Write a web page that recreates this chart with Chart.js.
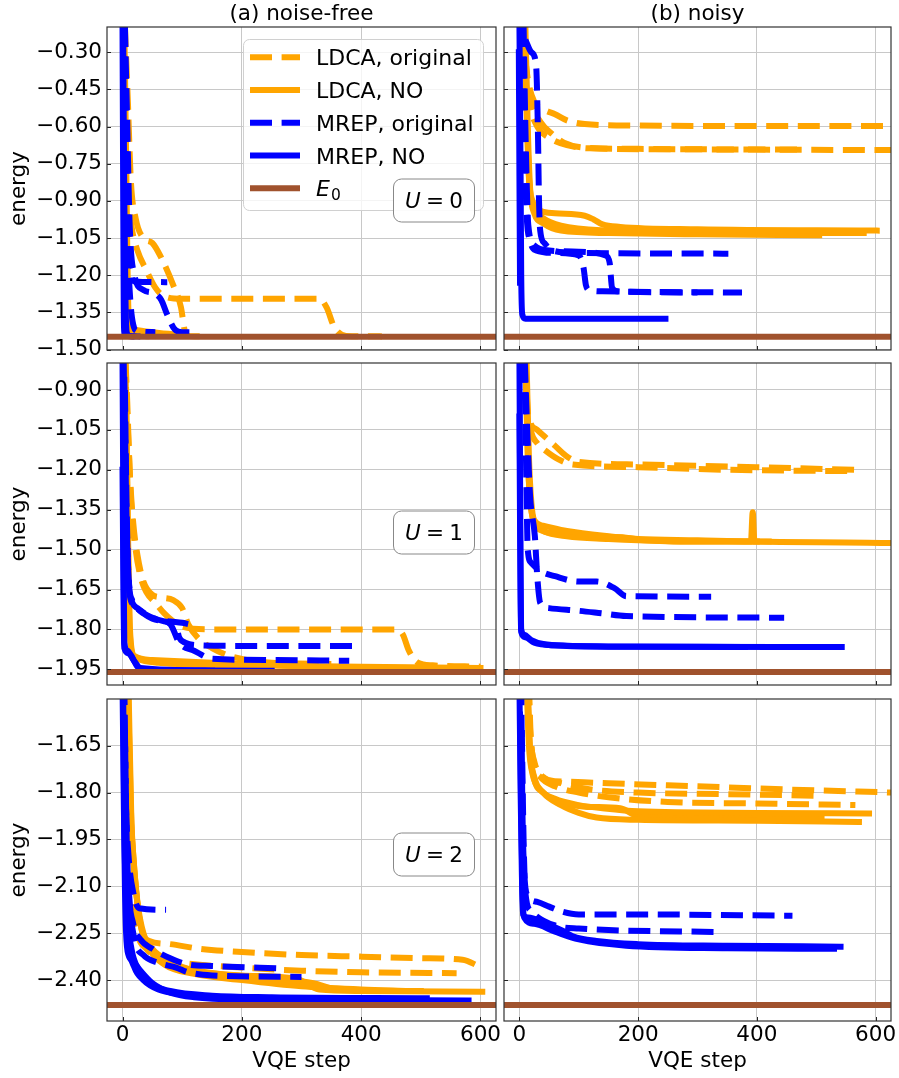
<!DOCTYPE html>
<html>
<head>
<meta charset="utf-8">
<script src="https://cdn.jsdelivr.net/npm/chart.js@4/dist/chart.umd.min.js"></script>
<style>
  body { margin:0; background:#fff; width:899px; height:1078px; position:relative; overflow:hidden; }
  canvas { position:absolute; }
</style>
</head>
<body>
<canvas id="c00"></canvas>
<canvas id="c01"></canvas>
<canvas id="c10"></canvas>
<canvas id="c11"></canvas>
<canvas id="c20"></canvas>
<canvas id="c21"></canvas>
<script>
// ---- data: each curve is a list of [VQE step, energy] ----
const xTicks = [0, 200, 400, 600];
const yTicksU0 = [-1.50, -1.35, -1.20, -1.05, -0.90, -0.75, -0.60, -0.45, -0.30];
const yTicksU1 = [-1.95, -1.80, -1.65, -1.50, -1.35, -1.20, -1.05, -0.90];
const yTicksU2 = [-2.40, -2.25, -2.10, -1.95, -1.80, -1.65];
const groundE = [-1.449, -1.960, -2.480];
const colTitles = ['(a) noise-free', '(b) noisy'];
const uValues = ['0', '1', '2'];
const legendLabels = ['LDCA, original', 'LDCA, NO', 'MREP, original', 'MREP, NO'];

// U = 0, noise-free
const freeU0_ldcaOrig = [
  [[2,-0.19],[5,-0.55],[9,-0.85],[15,-1.0],[25,-1.1],[40,-1.18],[55,-1.25],[70,-1.285],[100,-1.295],[330,-1.295],[342,-1.33],[355,-1.41],[375,-1.445],[435,-1.447]],
  [[4,-0.19],[9,-0.5],[14,-0.82],[22,-0.97],[35,-1.05],[50,-1.07],[65,-1.13],[85,-1.24],[98,-1.33],[104,-1.42],[110,-1.445],[130,-1.447]]
];
const freeU0_ldcaNO = [
  [[3,-0.19],[6,-0.7],[8,-1.1],[10,-1.35],[13,-1.41],[20,-1.42],[50,-1.43],[90,-1.44]],
  [[2,-0.19],[4,-0.8],[6,-1.2],[8,-1.4],[12,-1.44],[40,-1.446]]
];
const freeU0_mrepOrig = [
  [[3,-0.19],[6,-0.6],[10,-1.0],[14,-1.19],[20,-1.225],[75,-1.228]],
  [[2,-0.19],[5,-0.7],[9,-1.1],[13,-1.3],[18,-1.4],[25,-1.425],[55,-1.43]],
  [[4,-0.19],[8,-0.6],[12,-1.0],[20,-1.2],[35,-1.26],[55,-1.275],[65,-1.30],[75,-1.36],[88,-1.42],[100,-1.43],[125,-1.43]]
];
const freeU0_mrepNO = [
  [[0,-0.19],[1,-0.8],[2,-1.3],[3,-1.44],[15,-1.447]],
  [[1,-0.19],[3,-0.9],[5,-1.3],[7,-1.43],[12,-1.445],[25,-1.447]]
];

// U = 0, noisy
const noisyU0_ldcaOrig = [
  [[5,-0.19],[10,-0.33],[15,-0.42],[25,-0.5],[40,-0.53],[60,-0.55],[80,-0.575],[110,-0.59],[200,-0.596],[400,-0.598],[614,-0.598]],
  [[7,-0.19],[12,-0.38],[20,-0.5],[35,-0.58],[55,-0.63],[75,-0.665],[110,-0.685],[200,-0.69],[400,-0.693],[630,-0.695]],
  [[6,-0.19],[11,-0.4],[18,-0.52],[30,-0.6],[50,-0.645],[80,-0.675],[120,-0.688],[300,-0.692],[470,-0.693]]
];
const noisyU0_ldcaNO = [
  [[8,-0.19],[12,-0.5],[16,-0.8],[22,-0.9],[35,-0.94],[60,-0.95],[110,-0.96],[125,-0.975],[140,-0.995],[170,-1.005],[300,-1.015],[602,-1.02]],
  [[10,-0.19],[14,-0.6],[18,-0.85],[25,-0.95],[40,-0.99],[70,-1.02],[150,-1.03],[300,-1.035],[505,-1.039]],
  [[9,-0.19],[13,-0.6],[17,-0.85],[24,-0.93],[40,-0.97],[70,-1.0],[150,-1.02],[400,-1.03],[580,-1.03]]
];
const noisyU0_mrepOrig = [
  [[10,-0.25],[20,-0.3],[28,-0.35],[31,-0.6],[33,-0.9],[35,-1.02],[42,-1.07],[55,-1.1],[100,-1.11],[352,-1.113]],
  [[5,-0.19],[8,-0.6],[12,-0.95],[18,-1.06],[28,-1.1],[60,-1.11],[100,-1.12],[108,-1.17],[112,-1.24],[118,-1.26],[140,-1.265],[375,-1.27]],
  [[7,-0.19],[10,-0.6],[15,-1.0],[25,-1.08],[50,-1.1],[100,-1.105],[145,-1.12],[152,-1.15],[156,-1.25],[165,-1.265],[300,-1.27]]
];
const noisyU0_mrepNO = [
  [[0,-0.19],[2,-0.8],[3,-1.2],[5,-1.36],[10,-1.376],[246,-1.376]],
  [[-1,-0.3],[0,-0.8],[1,-1.23]]
];

// U = 1, noise-free
const freeU1_ldcaOrig = [
  [[4,-0.79],[6,-0.9],[10,-1.1],[15,-1.35],[22,-1.5],[30,-1.6],[40,-1.66],[55,-1.7],[70,-1.74],[85,-1.77],[100,-1.79],[150,-1.8],[460,-1.8],[470,-1.82],[480,-1.88],[495,-1.925],[520,-1.935],[600,-1.94]],
  [[5,-0.79],[8,-0.95],[12,-1.2],[18,-1.4],[25,-1.52],[35,-1.62],[50,-1.67],[65,-1.68],[85,-1.69],[100,-1.72],[110,-1.78],[130,-1.84],[150,-1.87],[180,-1.9],[250,-1.925],[350,-1.93]]
];
const freeU1_ldcaNO = [
  [[5,-0.79],[8,-1.3],[10,-1.6],[12,-1.8],[15,-1.88],[25,-1.91],[60,-1.925],[200,-1.935],[400,-1.94],[600,-1.945]],
  [[6,-0.9],[9,-1.4],[11,-1.7],[14,-1.85],[20,-1.9],[50,-1.915],[150,-1.925],[230,-1.93],[300,-1.94],[500,-1.945]]
];
const freeU1_mrepOrig = [
  [[2,-0.79],[5,-1.3],[8,-1.55],[12,-1.67],[20,-1.71],[35,-1.74],[50,-1.76],[80,-1.77],[100,-1.775],[110,-1.78]],
  [[3,-0.85],[6,-1.3],[9,-1.55],[14,-1.68],[25,-1.72],[45,-1.75],[70,-1.77],[90,-1.79],[95,-1.83],[105,-1.85],[130,-1.86],[200,-1.862],[395,-1.862]],
  [[4,-0.9],[7,-1.35],[10,-1.6],[16,-1.69],[30,-1.73],[55,-1.76],[80,-1.78],[95,-1.85],[120,-1.88],[150,-1.91],[250,-1.915],[380,-1.918]]
];
const freeU1_mrepNO = [
  [[0,-0.79],[1,-1.2],[2,-1.6],[3,-1.85],[8,-1.88],[15,-1.9],[25,-1.94],[40,-1.952],[250,-1.955]],
  [[0,-1.2],[1,-1.5],[2,-1.75],[3,-1.87],[10,-1.89],[20,-1.92],[30,-1.945],[150,-1.955]]
];

// U = 1, noisy
const noisyU1_ldcaOrig = [
  [[8,-0.79],[12,-0.95],[18,-1.02],[30,-1.05],[45,-1.08],[60,-1.11],[80,-1.15],[100,-1.17],[200,-1.18],[400,-1.19],[566,-1.2]],
  [[10,-0.79],[14,-0.98],[20,-1.06],[30,-1.1],[45,-1.13],[65,-1.16],[90,-1.18],[200,-1.19],[350,-1.2],[560,-1.205]]
];
const noisyU1_ldcaNO = [
  [[12,-0.79],[16,-1.15],[20,-1.32],[25,-1.39],[40,-1.41],[80,-1.43],[150,-1.45],[200,-1.46],[300,-1.465],[390,-1.47],[393,-1.36],[396,-1.47],[500,-1.472],[630,-1.475]],
  [[10,-0.79],[14,-1.15],[19,-1.33],[25,-1.40],[40,-1.43],[80,-1.45],[150,-1.46],[200,-1.465],[300,-1.47],[420,-1.47]],
  [[11,-0.85],[15,-1.2],[20,-1.35],[30,-1.41],[60,-1.44],[120,-1.45],[180,-1.455],[210,-1.465],[300,-1.47],[400,-1.47]]
];
const noisyU1_mrepOrig = [
  [[8,-0.79],[10,-1.0],[12,-1.3],[14,-1.5],[20,-1.55],[35,-1.58],[60,-1.6],[100,-1.62],[130,-1.62],[160,-1.645],[180,-1.675],[323,-1.677]],
  [[9,-0.79],[14,-1.1],[18,-1.3],[26,-1.45],[30,-1.6],[35,-1.7],[50,-1.72],[100,-1.73],[140,-1.74],[180,-1.75],[446,-1.756]]
];
const noisyU1_mrepNO = [
  [[0,-0.79],[1,-1.2],[2,-1.6],[3,-1.8],[8,-1.82],[20,-1.84],[40,-1.855],[80,-1.862],[200,-1.865],[543,-1.866]],
  [[0,-1.0],[1,-1.4],[2,-1.7],[3,-1.81],[10,-1.83],[25,-1.85],[60,-1.86],[150,-1.864],[380,-1.866]]
];

// U = 2, noise-free
const freeU2_ldcaOrig = [
  [[5,-1.45],[8,-1.7],[12,-1.95],[16,-2.1],[22,-2.2],[30,-2.25],[45,-2.275],[80,-2.285],[130,-2.3],[200,-2.31],[300,-2.32],[400,-2.325],[500,-2.33],[570,-2.335],[597,-2.355]],
  [[6,-1.45],[9,-1.75],[13,-2.0],[18,-2.15],[25,-2.25],[40,-2.3],[60,-2.33],[100,-2.345],[200,-2.36],[300,-2.37],[400,-2.375],[560,-2.378]]
];
const freeU2_ldcaNO = [
  [[8,-1.45],[12,-1.8],[18,-2.0],[25,-2.15],[35,-2.25],[50,-2.3],[80,-2.34],[120,-2.37],[200,-2.385],[290,-2.395],[330,-2.43],[400,-2.435],[603,-2.437]],
  [[9,-1.45],[14,-1.85],[20,-2.05],[28,-2.2],[40,-2.28],[60,-2.33],[100,-2.36],[160,-2.38],[250,-2.395],[320,-2.41],[360,-2.43],[500,-2.435]],
  [[10,-1.45],[15,-1.9],[22,-2.1],[30,-2.22],[45,-2.3],[70,-2.35],[120,-2.38],[200,-2.4],[300,-2.42],[400,-2.43],[480,-2.435]]
];
const freeU2_mrepOrig = [
  [[2,-1.45],[5,-1.8],[10,-2.0],[18,-2.12],[28,-2.17],[73,-2.175]],
  [[3,-1.45],[6,-1.85],[10,-2.1],[18,-2.22],[30,-2.27],[50,-2.3],[80,-2.33],[110,-2.35],[150,-2.355],[270,-2.363]],
  [[4,-1.6],[7,-1.95],[12,-2.15],[20,-2.27],[35,-2.32],[60,-2.345],[90,-2.36],[110,-2.375],[150,-2.385],[300,-2.39]]
];
const freeU2_mrepNO = [
  [[0,-1.45],[2,-1.8],[4,-2.1],[6,-2.25],[10,-2.32],[18,-2.34],[30,-2.37],[50,-2.41],[80,-2.44],[120,-2.455],[200,-2.462],[580,-2.465]],
  [[1,-1.45],[3,-1.9],[6,-2.15],[10,-2.28],[20,-2.36],[35,-2.4],[60,-2.43],[100,-2.445],[180,-2.455],[300,-2.46],[470,-2.462]],
  [[2,-1.6],[5,-2.0],[9,-2.2],[15,-2.3],[28,-2.37],[45,-2.41],[80,-2.435],[150,-2.45],[250,-2.455],[510,-2.458]]
];

// U = 2, noisy
const noisyU2_ldcaOrig = [
  [[15,-1.45],[18,-1.6],[22,-1.68],[30,-1.73],[50,-1.76],[80,-1.765],[150,-1.77],[300,-1.78],[450,-1.79],[630,-1.8]],
  [[14,-1.45],[17,-1.6],[22,-1.7],[35,-1.75],[60,-1.78],[100,-1.8],[150,-1.815],[250,-1.83],[400,-1.835],[566,-1.84]],
  [[16,-1.45],[19,-1.62],[25,-1.7],[40,-1.75],[70,-1.77],[120,-1.79],[200,-1.8],[350,-1.805],[500,-1.81]]
];
const noisyU2_ldcaNO = [
  [[12,-1.45],[16,-1.65],[22,-1.74],[35,-1.79],[60,-1.82],[100,-1.84],[140,-1.85],[200,-1.86],[400,-1.865],[589,-1.867]],
  [[14,-1.45],[18,-1.66],[25,-1.75],[40,-1.8],[70,-1.84],[100,-1.865],[130,-1.88],[200,-1.887],[400,-1.89],[572,-1.894]],
  [[13,-1.45],[17,-1.65],[24,-1.75],[40,-1.8],[70,-1.83],[110,-1.845],[170,-1.85],[200,-1.875],[300,-1.88],[509,-1.882]]
];
const noisyU2_mrepOrig = [
  [[3,-1.45],[5,-1.85],[8,-2.05],[14,-2.13],[30,-2.15],[50,-2.165],[70,-2.18],[100,-2.19],[200,-2.19],[460,-2.194]],
  [[4,-1.6],[7,-1.95],[10,-2.12],[20,-2.18],[40,-2.21],[70,-2.23],[100,-2.235],[150,-2.24],[330,-2.246]]
];
const noisyU2_mrepNO = [
  [[0,-1.45],[2,-1.8],[4,-2.05],[6,-2.19],[15,-2.2],[40,-2.215],[70,-2.24],[90,-2.26],[130,-2.275],[200,-2.285],[350,-2.29],[541,-2.293]],
  [[1,-1.55],[3,-1.85],[5,-2.1],[8,-2.2],[25,-2.22],[60,-2.245],[100,-2.27],[180,-2.29],[350,-2.298],[530,-2.3]]
];

// ---- styling / layout ----
const ORANGE = '#ffa500', BLUE = '#0000ff', SIENNA = '#a0522d';
const DASH = [22, 9.6];
const FONT = '"DejaVu Sans", sans-serif';

Chart.defaults.font.family = FONT;
Chart.defaults.font.size = 21.5;
Chart.defaults.color = '#000';

const rows = [
  { top: 0,   h: 360, padTop: 27, xh: 10, ymin: -1.502, ymax: -0.198, ticks: yTicksU0, uY: 200.5 },
  { top: 356, h: 334, padTop: 7,  xh: 5,  ymin: -2.009, ymax: -0.7985, ticks: yTicksU1, uY: 176.5 },
  { top: 690, h: 388, padTop: 9,  xh: 57, ymin: -2.531, ymax: -1.5005, ticks: yTicksU2, uY: 164.5 }
];
const cols = [
  { left: 0,   w: 502, padL: 3, padR: 6, yw: 104 },
  { left: 500, w: 399, padL: 4, padR: 8, yw: 0 }
];
const panels = [
  [ {ldcaOrig: freeU0_ldcaOrig, ldcaNO: freeU0_ldcaNO, mrepOrig: freeU0_mrepOrig, mrepNO: freeU0_mrepNO},
    {ldcaOrig: noisyU0_ldcaOrig, ldcaNO: noisyU0_ldcaNO, mrepOrig: noisyU0_mrepOrig, mrepNO: noisyU0_mrepNO} ],
  [ {ldcaOrig: freeU1_ldcaOrig, ldcaNO: freeU1_ldcaNO, mrepOrig: freeU1_mrepOrig, mrepNO: freeU1_mrepNO},
    {ldcaOrig: noisyU1_ldcaOrig, ldcaNO: noisyU1_ldcaNO, mrepOrig: noisyU1_mrepOrig, mrepNO: noisyU1_mrepNO} ],
  [ {ldcaOrig: freeU2_ldcaOrig, ldcaNO: freeU2_ldcaNO, mrepOrig: freeU2_mrepOrig, mrepNO: freeU2_mrepNO},
    {ldcaOrig: noisyU2_ldcaOrig, ldcaNO: noisyU2_ldcaNO, mrepOrig: noisyU2_mrepOrig, mrepNO: noisyU2_mrepNO} ]
];

function curveSets(curves, color, dashed, order){
  return curves.map(c => ({
    data: c.map(p => ({x: p[0], y: p[1]})),
    borderColor: color,
    borderWidth: 6,
    borderDash: dashed ? DASH : [],
    borderCapStyle: dashed ? 'butt' : 'square',
    borderJoinStyle: 'round',
    pointRadius: 0,
    fill: false,
    cubicInterpolationMode: 'monotone',
    clip: 0,
    order: order
  }));
}

function panelSets(p, e0){
  return [
    ...curveSets(p.ldcaOrig, ORANGE, true, 4),
    ...curveSets(p.ldcaNO, ORANGE, false, 3),
    ...curveSets(p.mrepOrig, BLUE, true, 2),
    ...curveSets(p.mrepNO, BLUE, false, 1),
    { data: [{x: -40, y: e0}, {x: 700, y: e0}], borderColor: SIENNA, borderWidth: 6,
      borderCapStyle: 'butt', pointRadius: 0, fill: false, clip: 0, order: 0 }
  ];
}

function fmt(v){
  return (v < 0 ? '\u2212' : '') + Math.abs(v).toFixed(2);
}

function roundRect(ctx, x, y, w, h, r){
  ctx.beginPath();
  ctx.moveTo(x + r, y);
  ctx.arcTo(x + w, y, x + w, y + h, r);
  ctx.arcTo(x + w, y + h, x, y + h, r);
  ctx.arcTo(x, y + h, x, y, r);
  ctx.arcTo(x, y, x + w, y, r);
  ctx.closePath();
}

// math-like label: italic symbol, then "= value"
function drawMath(ctx, sym, val, cx, cy, size){
  const it = 'italic ' + size + 'px ' + FONT, up = size + 'px ' + FONT;
  ctx.font = it; const w1 = ctx.measureText(sym).width;
  ctx.font = up; const w2 = ctx.measureText('=').width, w3 = ctx.measureText(val).width;
  const gap = size * 0.24;
  let x = cx - (w1 + gap + w2 + gap + w3) / 2;
  ctx.textBaseline = 'alphabetic'; ctx.textAlign = 'left'; ctx.fillStyle = '#000';
  const by = cy + size * 0.36;
  ctx.font = it; ctx.fillText(sym, x, by); x += w1 + gap;
  ctx.font = up; ctx.fillText('=', x, by); x += w2 + gap;
  ctx.fillText(val, x, by);
}

function drawLegend(ctx){
  roundRect(ctx, 243.5, 39.5, 240, 171, 6);
  ctx.fillStyle = 'rgba(255,255,255,0.8)'; ctx.fill();
  ctx.strokeStyle = '#d0d0d0'; ctx.lineWidth = 1; ctx.stroke();
  const items = [
    {c: ORANGE, d: true}, {c: ORANGE, d: false}, {c: BLUE, d: true}, {c: BLUE, d: false}, {c: SIENNA, d: false}
  ];
  items.forEach((it, i) => {
    const y = 57.3 + i * 32.75;
    ctx.strokeStyle = it.c; ctx.lineWidth = 6; ctx.lineCap = 'butt';
    ctx.setLineDash(it.d ? DASH : []);
    ctx.beginPath(); ctx.moveTo(250, y); ctx.lineTo(300, y); ctx.stroke();
    ctx.setLineDash([]);
    ctx.fillStyle = '#000'; ctx.textAlign = 'left'; ctx.textBaseline = 'alphabetic';
    if (i < 4) {
      ctx.font = '22px ' + FONT;
      ctx.fillText(legendLabels[i], 316, y + 8);
    } else {
      ctx.font = 'italic 22px ' + FONT;
      ctx.fillText('E', 316, y + 8);
      const w = ctx.measureText('E').width;
      ctx.font = '15.5px ' + FONT;
      ctx.fillText('0', 316 + w + 1, y + 12);
    }
  });
}

const decor = {
  id: 'decor',
  afterDatasetsDraw(chart, args, o){
    const {ctx, chartArea: a} = chart;
    const xs = chart.scales.x, ys = chart.scales.y;
    ctx.save();
    // inward tick marks
    ctx.strokeStyle = '#222'; ctx.lineWidth = 1;
    ys.ticks.forEach(t => {
      const y = Math.round(ys.getPixelForValue(t.value)) + 0.5;
      ctx.beginPath(); ctx.moveTo(a.left, y); ctx.lineTo(a.left + 4, y); ctx.stroke();
    });
    xs.ticks.forEach(t => {
      const x = Math.round(xs.getPixelForValue(t.value)) + 0.5;
      ctx.beginPath(); ctx.moveTo(x, a.bottom); ctx.lineTo(x, a.bottom - 4); ctx.stroke();
    });
    // frame
    ctx.strokeStyle = '#333'; ctx.lineWidth = 1.2;
    ctx.strokeRect(a.left, a.top, a.right - a.left, a.bottom - a.top);
    // column title
    if (o.title) {
      ctx.font = '21.5px ' + FONT; ctx.fillStyle = '#000';
      ctx.textAlign = 'center'; ctx.textBaseline = 'middle';
      ctx.fillText(o.title, (a.left + a.right) / 2, 14);
    }
    if (o.legend) drawLegend(ctx);
    // U box (drawn above the legend)
    if (o.u) {
      roundRect(ctx, 393.5, o.uY - 21.5, 81, 43, 8);
      ctx.fillStyle = 'rgba(255,255,255,0.9)'; ctx.fill();
      ctx.strokeStyle = '#888'; ctx.lineWidth = 1; ctx.stroke();
      drawMath(ctx, 'U', o.u, 434, o.uY, 21.5);
    }
    ctx.restore();
  }
};

function makePanel(r, c){
  const row = rows[r], col = cols[c];
  const cv = document.getElementById('c' + r + c);
  cv.width = col.w; cv.height = row.h;
  cv.style.left = col.left + 'px'; cv.style.top = row.top + 'px';
  const bottomRow = r === rows.length - 1;
  new Chart(cv.getContext('2d'), {
    type: 'line',
    data: { datasets: panelSets(panels[r][c], groundE[r]) },
    plugins: [decor],
    options: {
      responsive: false,
      animation: false,
      events: [],
      layout: { padding: { top: row.padTop, left: col.padL, right: col.padR, bottom: 0 } },
      plugins: {
        legend: { display: false },
        tooltip: { enabled: false },
        decor: {
          title: r === 0 ? colTitles[c] : '',
          u: c === 0 ? uValues[r] : '',
          uY: row.uY,
          legend: r === 0 && c === 0
        }
      },
      scales: {
        x: {
          type: 'linear', min: -26, max: 626,
          afterBuildTicks: s => { s.ticks = xTicks.map(v => ({value: v})); },
          afterFit: s => { s.height = row.xh; s.paddingLeft = 0; s.paddingRight = 0; },
          ticks: { display: bottomRow, padding: 2, maxRotation: 0, callback: v => String(v) },
          grid: { color: '#c8c8c8', lineWidth: 1, drawTicks: false },
          border: { display: false },
          title: { display: bottomRow, text: 'VQE step', padding: { top: 4, bottom: 4 } }
        },
        y: {
          type: 'linear', min: row.ymin, max: row.ymax,
          afterBuildTicks: s => { s.ticks = row.ticks.map(v => ({value: v})); },
          afterFit: s => { s.width = col.yw; s.paddingTop = 0; s.paddingBottom = 0; },
          ticks: { display: c === 0, padding: 5, callback: v => fmt(v) },
          grid: { color: '#c8c8c8', lineWidth: 1, drawTicks: false },
          border: { display: false },
          title: { display: c === 0, text: 'energy', padding: { top: 4, bottom: 4 } }
        }
      }
    }
  });
}

for (let r = 0; r < rows.length; r++) {
  for (let c = 0; c < cols.length; c++) makePanel(r, c);
}
</script>
</body>
</html>
